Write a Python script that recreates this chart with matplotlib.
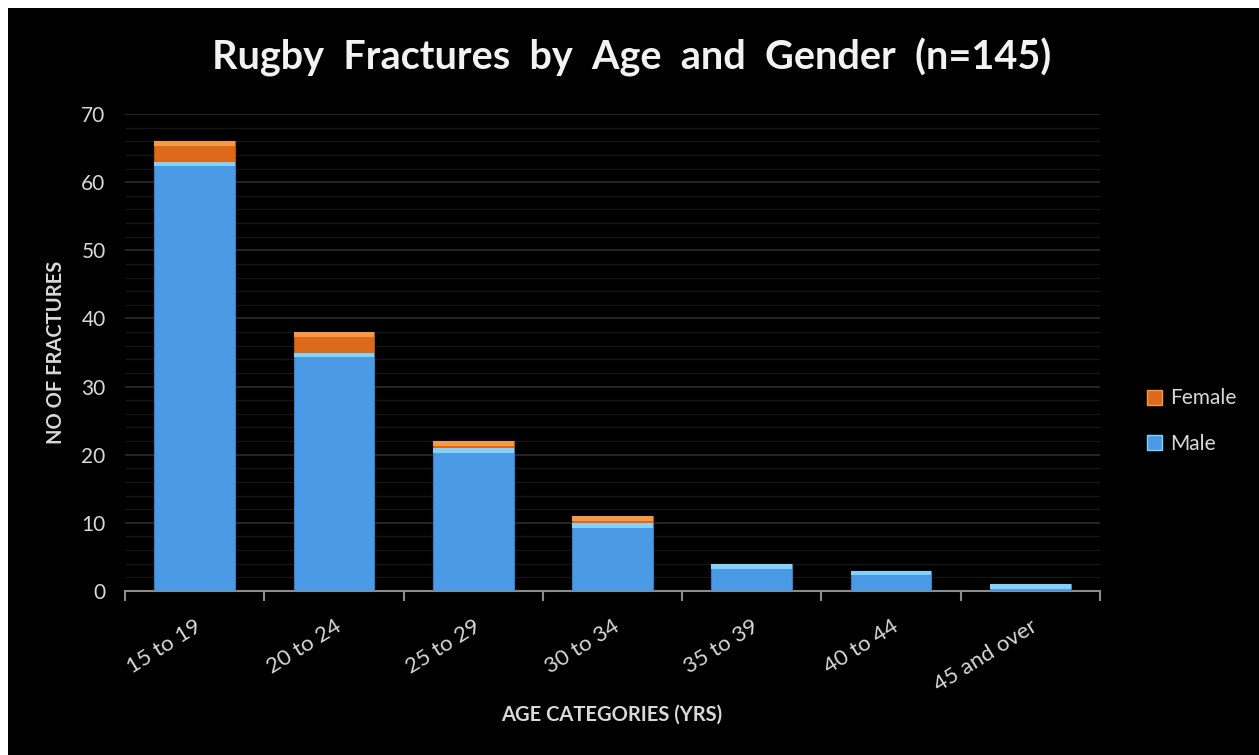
import numpy as np
import matplotlib as mpl
mpl.use('Agg')
import matplotlib.pyplot as plt
from matplotlib.patches import Rectangle, Patch

plt.rcParams['font.family'] = ['Lato', 'DejaVu Sans']

# data
age_groups = ['15 to 19', '20 to 24', '25 to 29', '30 to 34', '35 to 39', '40 to 44', '45 and over']
male = [63, 35, 21, 10, 4, 3, 1]
female = [3, 3, 1, 1, 0, 0, 0]

TEXT = '#d9d9d9'
BLUE = '#4a9ae6'
BLUE_TOP = '#86d0fa'
ORANGE = '#dd6a1a'
ORANGE_TOP = '#f39a45'

fig = plt.figure(figsize=(12.59, 7.55), dpi=100, facecolor='white')
# black chart area, leaving thin white strip at top/left like the original
fig.patches.append(Rectangle((8 / 1259, 0), 1, 1 - 8 / 755, transform=fig.transFigure,
                             facecolor='black', edgecolor='none', zorder=-10))

ax = fig.add_axes([125 / 1259, 1 - 591 / 755, 975 / 1259, 477 / 755])
ax.set_facecolor('black')

x = np.arange(len(age_groups))
w = 0.58
male = np.array(male)
female = np.array(female)

ax.bar(x, male, w, color=BLUE, edgecolor='#3a7fc4', linewidth=0.8, zorder=3)
# bevel highlight at top of each segment
bev = 0.7
ax.bar(x, np.minimum(bev, male), w, bottom=male - np.minimum(bev, male), color=BLUE_TOP,
       linewidth=0, zorder=4)
ax.bar(x, female, w, bottom=male, color=ORANGE, edgecolor='#b55512', linewidth=0.8, zorder=3)
mask = female > 0
ax.bar(x[mask], np.minimum(bev, female[mask]), w, bottom=(male + female - np.minimum(bev, female))[mask],
       color=ORANGE_TOP, linewidth=0, zorder=4)

ax.set_xlim(-0.5, len(age_groups) - 0.5)
ax.set_ylim(0, 70)
ax.set_yticks(np.arange(0, 71, 10))
ax.set_yticks(np.arange(0, 71, 2), minor=True)
ax.grid(axis='y', which='major', color='#2c2c2c', linewidth=1.2, zorder=0)
ax.grid(axis='y', which='minor', color='#151515', linewidth=1.0, zorder=0)
ax.set_axisbelow(True)

for s in ['top', 'right', 'left']:
    ax.spines[s].set_visible(False)
ax.spines['bottom'].set_color('#8c8c8c')
ax.spines['bottom'].set_linewidth(1.5)

# category boundary ticks on x
ax.set_xticks(np.arange(-0.5, len(age_groups), 1.0))
ax.set_xticklabels([])
ax.tick_params(axis='x', which='major', length=7, width=1.5, color='#8c8c8c', direction='out')
ax.set_xticks(x, minor=True)
ax.set_xticklabels(age_groups, minor=True, rotation=32, ha='right', rotation_mode='anchor',
                   fontsize=16, color=TEXT)
ax.tick_params(axis='x', which='minor', length=0, pad=18)

ax.tick_params(axis='y', which='both', length=0, pad=14, labelsize=15, labelcolor=TEXT)

ax.set_ylabel('NO OF FRACTURES', fontsize=14.5, fontweight='bold', color=TEXT)
ax.yaxis.set_label_coords(-0.06, 0.5)
fig.text(612 / 1259, 1 - 715 / 755, 'AGE CATEGORIES (YRS)', fontsize=14.5, fontweight='bold',
         color=TEXT, ha='center', va='center')

fig.text(632 / 1259, 1 - 57 / 755, 'Rugby  Fractures  by  Age  and  Gender  (n=145)', fontsize=28.5,
         fontweight='bold', color='#f2f2f2', ha='center', va='center')

handles = [Patch(facecolor=ORANGE, edgecolor=ORANGE_TOP), Patch(facecolor=BLUE, edgecolor=BLUE_TOP)]
leg = fig.legend(handles, ['Female', 'Male'], loc='center left',
                 bbox_to_anchor=(1128 / 1259, 1 - 421 / 755), frameon=False, fontsize=15,
                 labelcolor=TEXT, handlelength=0.75, handleheight=0.75, handletextpad=0.35,
                 labelspacing=1.2)

fig.savefig('out.png', dpi=100, facecolor=fig.get_facecolor())
